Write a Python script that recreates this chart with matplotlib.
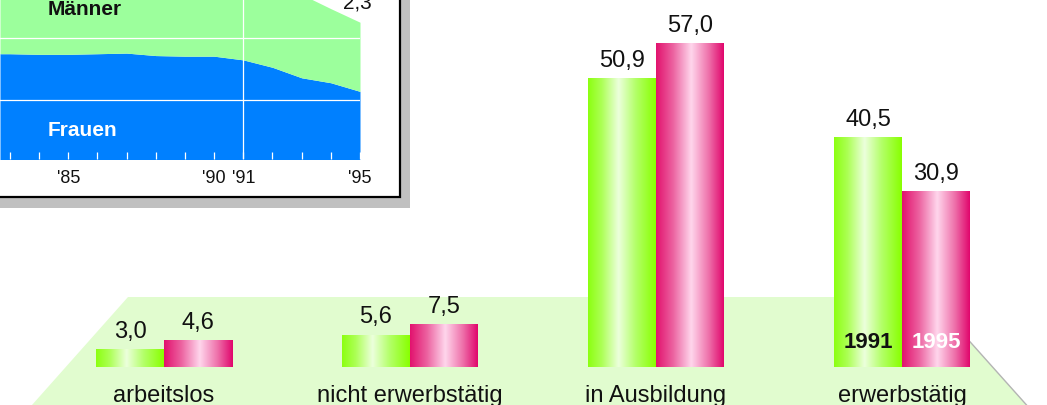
import numpy as np
import matplotlib
matplotlib.use("Agg")
import matplotlib.pyplot as plt
from matplotlib.colors import LinearSegmentedColormap
from matplotlib.patches import Polygon, Rectangle

plt.rcParams['font.family'] = ['Liberation Sans', 'DejaVu Sans']

# bar data (percent)
categories = ['arbeitslos', 'nicht erwerbstätig', 'in Ausbildung', 'erwerbstätig']
values_1991 = [3.0, 5.6, 50.9, 40.5]
values_1995 = [4.6, 7.5, 57.0, 30.9]
year_labels = ['1991', '1995']

# inset data (stacked area)
years = [82.66, 83, 84, 85, 86, 87, 88, 89, 90, 91, 92, 93, 94, 95]
frauen = [1.75, 1.75, 1.74, 1.74, 1.75, 1.76, 1.72, 1.71, 1.71, 1.65, 1.53, 1.36, 1.28, 1.14]
gesamt = [2.88, 2.88, 2.9, 2.9, 2.92, 2.93, 2.92, 2.9, 2.88, 2.86, 2.8, 2.71, 2.48, 2.26]
inset_ticklabels = {85: "'85", 90: "'90", 91: "'91", 95: "'95"}

W, H = 1047, 405
fig = plt.figure(figsize=(W / 100, H / 100), dpi=100)

# background: floor and inset frame (pixel coordinates)
bg = fig.add_axes([0, 0, 1, 1], zorder=0)
bg.set_xlim(0, W)
bg.set_ylim(H, 0)
bg.axis('off')
bg.add_patch(Polygon([(128, 297), (930, 297), (1027, 405), (32, 405)],
                     closed=True, facecolor='#e1fccf', edgecolor='none'))
bg.plot([930, 1031], [297, 410], color='#b4b4b4', lw=1)
bg.add_patch(Rectangle((-20, -20), 430, 228, facecolor='#c0c0c0', edgecolor='none'))
bg.add_patch(Rectangle((-30, -30), 430, 227, facecolor='white', edgecolor='black', lw=1.6))

# bar axes
px_per_unit = 5.67
base_px = 367
ax = fig.add_axes([0, (H - base_px) / H, 1, base_px / H], zorder=1)
ax.patch.set_alpha(0)
ax.axis('off')
spacing = 246
xmin = -164 / spacing
xmax = (W - 164) / spacing
ymax = base_px / px_per_unit
bw = 68 / spacing

green_cmap = LinearSegmentedColormap.from_list('g', [
    (0.0, '#8cff10'), (0.2, '#acff55'), (0.45, '#ecffdc'), (0.7, '#b4ff6a'), (1.0, '#88ff00')])
pink_cmap = LinearSegmentedColormap.from_list('p', [
    (0.0, '#e2126e'), (0.25, '#ec62a0'), (0.52, '#ffd6ec'), (0.78, '#ee70aa'), (1.0, '#e0066c')])
grad = np.linspace(0, 1, 256).reshape(1, -1)

x = np.arange(len(categories))
bars91 = ax.bar(x - bw / 2, values_1991, bw, color='none')
bars95 = ax.bar(x + bw / 2, values_1995, bw, color='none')
for bars, cmap in [(bars91, green_cmap), (bars95, pink_cmap)]:
    for b in bars:
        ax.imshow(grad, cmap=cmap, aspect='auto', interpolation='bilinear',
                  extent=[b.get_x(), b.get_x() + b.get_width(), 0, b.get_height()], zorder=2)
        ax.annotate(f"{b.get_height():.1f}".replace('.', ','),
                    (b.get_x() + b.get_width() / 2, b.get_height()),
                    xytext=(0, 8.5), textcoords='offset points', ha='center', va='baseline',
                    fontsize=17, color='#111111')

for i, c in enumerate(categories):
    ax.text(i, -35 / px_per_unit, c, ha='center', va='baseline', fontsize=17,
            color='#111111', clip_on=False)

# year labels inside the last group
last = len(categories) - 1
ax.text(last - bw / 2, 19 / px_per_unit, year_labels[0], ha='center', va='baseline',
        fontsize=16, fontweight='bold', color='#111111')
ax.text(last + bw / 2, 19 / px_per_unit, year_labels[1], ha='center', va='baseline',
        fontsize=16, fontweight='bold', color='white')

ax.set_xlim(xmin, xmax)
ax.set_ylim(0, ymax)

# inset
ins = fig.add_axes([0, (H - 159.3) / H, 360 / W, 159.3 / H], zorder=3)
ins.fill_between(years, 0, frauen, color='#0080ff', lw=0)
ins.fill_between(years, frauen, gesamt, color='#9cff9c', lw=0)
ins.set_xlim(82.66, 95)
ins.set_ylim(0.04, 2.62)
for v in [1, 2]:
    ins.axhline(v, color='white', lw=0.9)
ins.axvline(91, color='white', lw=0.9)
for s in ins.spines.values():
    s.set_visible(False)
ins.set_yticks([])
tick_years = list(range(83, 96))
ins.set_xticks(tick_years)
ins.set_xticklabels([inset_ticklabels.get(t, '') for t in tick_years])
ins.tick_params(axis='x', direction='in', length=5, width=0.9, color='white',
                labelsize=13, pad=8, labelcolor='#111111')
ins.text(84.3, 2.46, 'Männer', ha='left', va='center', fontsize=15, fontweight='bold', color='#111111')
ins.text(84.3, 0.51, 'Frauen', ha='left', va='center', fontsize=15, fontweight='bold', color='white')
ins.annotate("2,3".replace('.', ','), (years[-1], gesamt[-1]), xytext=(-2, 10),
             textcoords='offset points', ha='center', va='baseline', fontsize=15,
             color='#111111', annotation_clip=False)

fig.savefig('out.png', dpi=100)
